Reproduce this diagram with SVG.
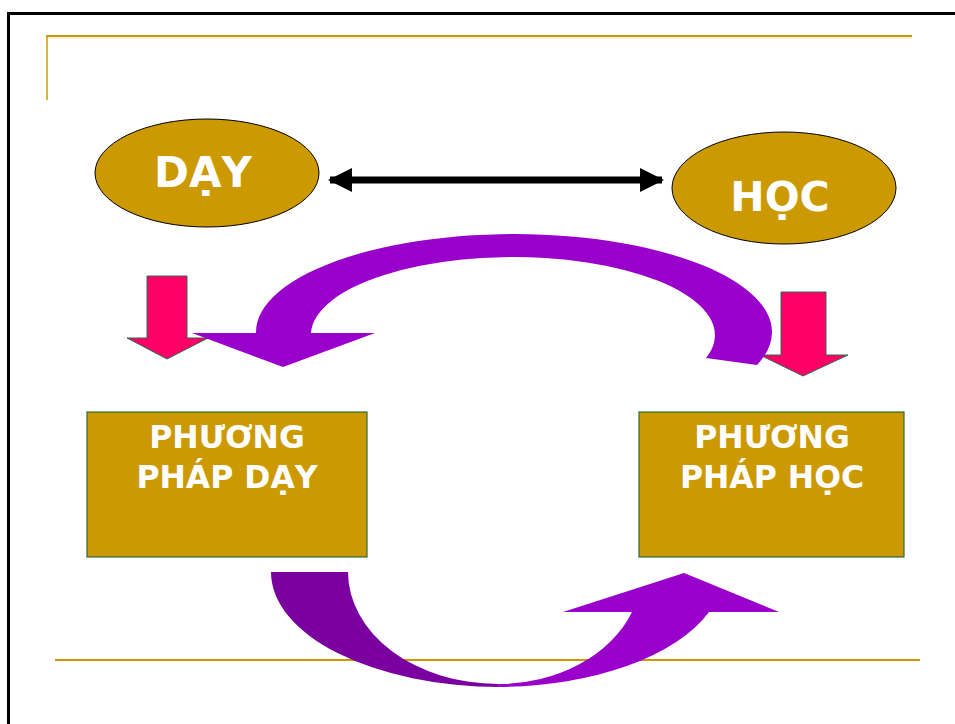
<svg xmlns="http://www.w3.org/2000/svg" width="955" height="724" viewBox="0 0 955 724">
<defs>
<style>
.gold{stroke:#CC9900;fill:none}
.ell{fill:#CC9900;stroke:#000;stroke-width:1}
.box{fill:#CC9900;stroke:#2E6B3A;stroke-width:1.2}
.lbl{font-family:"DejaVu Sans","Liberation Sans",sans-serif;font-weight:bold;fill:#fff;text-anchor:middle}
.pink{fill:#FF0066;stroke:#2E6B4F;stroke-width:1}
</style>
<marker id="ah" viewBox="0 0 24 24" refX="22" refY="12" markerWidth="24" markerHeight="24" markerUnits="userSpaceOnUse" orient="auto-start-reverse">
<path d="M0,0 L24,12 L0,24 Z" fill="#000"/>
</marker>
</defs>
<rect width="955" height="724" fill="#fff"/>
<rect x="8.5" y="13.5" width="1000" height="800" fill="none" stroke="#000" stroke-width="3"/>
<g id="decor">
<line class="gold" x1="46" y1="36" x2="912" y2="36" stroke-width="2"/>
<line x1="47" y1="38" x2="912" y2="38" stroke="#F3E3B3" stroke-width="1"/>
<line class="gold" x1="47" y1="36" x2="47" y2="100" stroke-width="1.5"/>
<line class="gold" x1="55" y1="660" x2="920" y2="660" stroke-width="2"/>
</g>
<g id="connectors">
<line x1="330" y1="180" x2="662" y2="180" stroke="#000" stroke-width="7" marker-start="url(#ah)" marker-end="url(#ah)"/>
<path class="pink" d="M147,276 L187,276 L187,338 L208,338 L167,359 L127,338 L147,338 Z"/>
<path class="pink" d="M781,292 L826,292 L826,355 L848,355 L803,376 L760,355 L781,355 Z"/>
<path fill="#9900CC" d="M192,333 L256,333 A258 98 0 1 1 757,365 L706,358 A202 78 0 1 0 311,333 L375,333 L283,367 Z"/>
<path fill="#7A00A0" d="M271,572 L348,572 A150 112 0 0 0 498,684 L500,687 A229 115 0 0 1 271,572 Z"/>
<path fill="#9900CC" d="M498,684 A143 112 0 0 0 632,612 L563,612 L684,573 L779,612 L709,612 A228 115 0 0 1 500,687 Z"/>
</g>
<g id="day">
<ellipse class="ell" cx="207" cy="173" rx="112" ry="54"/>
<text class="lbl" x="203" y="187" font-size="42">DẠY</text>
</g>
<g id="hoc">
<ellipse class="ell" cx="784" cy="188" rx="112" ry="56"/>
<text class="lbl" x="780" y="211" font-size="41">HỌC</text>
</g>
<g id="ppday">
<rect class="box" x="87" y="412" width="280" height="145"/>
<text class="lbl" x="227" y="448" font-size="31.5">PHƯƠNG</text>
<text class="lbl" x="227" y="488" font-size="31.5">PHÁP DẠY</text>
</g>
<g id="pphoc">
<rect class="box" x="639" y="412" width="265" height="145"/>
<text class="lbl" x="772" y="448" font-size="31.5">PHƯƠNG</text>
<text class="lbl" x="772" y="488" font-size="31.5">PHÁP HỌC</text>
</g>
</svg>
